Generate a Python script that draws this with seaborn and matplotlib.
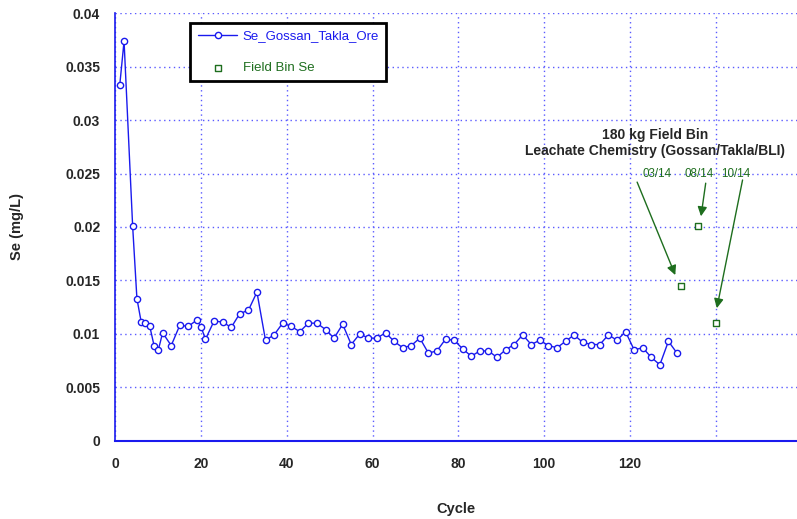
import matplotlib
matplotlib.use("Agg")
import matplotlib.pyplot as plt
import seaborn as sns

# Se_Gossan_Takla_Ore column data (cycle, mg/L)
cycles = [1, 2, 4, 5, 6, 7, 8, 9, 10, 11, 13, 15, 17, 19, 20, 21,
          23, 25, 27, 29, 31, 33, 35, 37, 39, 41, 43, 45, 47, 49, 51, 53,
          55, 57, 59, 61, 63, 65, 67, 69, 71, 73, 75, 77, 79, 81, 83, 85,
          87, 89, 91, 93, 95, 97, 99, 101, 103, 105, 107, 109, 111, 113,
          115, 117, 119, 121, 123, 125, 127, 129, 131]
se = [0.0333, 0.0374, 0.0201, 0.0133, 0.0111, 0.0110, 0.0107, 0.0089, 0.0085, 0.0101,
      0.0089, 0.0108, 0.0107, 0.0113, 0.0106, 0.0095,
      0.0112, 0.0111, 0.0106, 0.0119, 0.0122, 0.0139, 0.0094, 0.0099, 0.0110, 0.0107,
      0.0102, 0.0110, 0.0110, 0.0104, 0.0096, 0.0109,
      0.0090, 0.0100, 0.0096, 0.0096, 0.0101, 0.0093, 0.0087, 0.0089, 0.0096, 0.0082,
      0.0084, 0.0095, 0.0094, 0.0086, 0.0079, 0.0084,
      0.0084, 0.0078, 0.0085, 0.0090, 0.0099, 0.0090, 0.0094, 0.0089, 0.0087, 0.0093,
      0.0099, 0.0092, 0.0090, 0.0090,
      0.0099, 0.0094, 0.0102, 0.0085, 0.0087, 0.0078, 0.0071, 0.0093, 0.0082]

# field bin samples
bin_cycles = [132, 136, 140]
bin_se = [0.0145, 0.0201, 0.0110]
bin_dates = ["03/14", "08/14", "10/14"]

y_ticks = [0, 0.005, 0.01, 0.015, 0.02, 0.025, 0.03, 0.035, 0.04]
y_labels = ["0", "0.005", "0.01", "0.015", "0.02", "0.025", "0.03", "0.035", "0.04"]
x_ticks = [0, 20, 40, 60, 80, 100, 120, 140]
x_labels = ["0", "20", "40", "60", "80", "100", "120", ""]

blue = "#1a1aee"
grid_blue = "#5a5aff"
green = "#1e6e1e"

sns.set_style("white")
plt.rcParams['font.family'] = ['Liberation Sans', 'DejaVu Sans']

fig = plt.figure(figsize=(7.97, 5.19), dpi=100)
ax = fig.add_axes([0.1449, 0.1509, 0.8551, 0.8235])

sns.lineplot(x=cycles, y=se, ax=ax, color=blue, linewidth=1,
             marker='o', markersize=4.5, markerfacecolor='white',
             markeredgecolor=blue, markeredgewidth=1,
             label="Se_Gossan_Takla_Ore", zorder=3)
sns.scatterplot(x=bin_cycles, y=bin_se, ax=ax, marker='s', s=20,
                facecolor='white', edgecolor=green, linewidth=1,
                label="Field Bin Se", zorder=3)

ax.set_xlim(0, 159)
ax.set_ylim(0, 0.04)
ax.set_xticks(x_ticks)
ax.set_xticklabels(x_labels, fontsize=10, fontweight='bold')
ax.set_yticks(y_ticks)
ax.set_yticklabels(y_labels, fontsize=10, fontweight='bold')
ax.tick_params(axis='x', direction='in', length=4, width=1, color=blue, pad=12)
ax.tick_params(axis='y', direction='in', length=4, width=1, color=blue, pad=11)

ax.grid(True, color=grid_blue, linestyle=(0, (1, 2.5)), linewidth=1)
ax.spines['top'].set_visible(False)
ax.spines['right'].set_visible(False)
ax.spines['left'].set_color(blue)
ax.spines['left'].set_linewidth(1.2)
ax.spines['bottom'].set_color(blue)
ax.spines['bottom'].set_linewidth(1.5)

ax.set_xlabel("Cycle", fontsize=10.5, fontweight='bold', labelpad=22)
ax.set_ylabel("Se (mg/L)", fontsize=10.5, fontweight='bold', labelpad=30)

leg = ax.legend(loc='upper left', bbox_to_anchor=(0.110, 0.978), borderaxespad=0,
                fontsize=9.5, frameon=True, fancybox=False, framealpha=1,
                edgecolor='black', handlelength=3, handletextpad=0.4,
                labelspacing=1.5, borderpad=0.55)
leg.get_frame().set_linewidth(2)
for txt, c in zip(leg.get_texts(), [blue, green]):
    txt.set_color(c)

# field bin annotations
ax.text(125.8, 0.0286, "180 kg Field Bin", fontsize=10, fontweight='bold',
        ha='center', va='center')
ax.text(125.8, 0.0271, "Leachate Chemistry (Gossan/Takla/BLI)", fontsize=10,
        fontweight='bold', ha='center', va='center')

label_x = [126.3, 136.2, 144.7]
arrow_tail = [(121.7, 0.0242), (137.7, 0.0241), (146.3, 0.0244)]
arrow_tip = [(130.6, 0.0155), (136.6, 0.0210), (140.3, 0.0124)]
for lx, d in zip(label_x, bin_dates):
    ax.text(lx, 0.0250, d, fontsize=8.4, color=green, ha='center', va='center')
for tail, tip in zip(arrow_tail, arrow_tip):
    ax.annotate("", xy=tip, xytext=tail,
                arrowprops=dict(arrowstyle='-|>', color=green, lw=1,
                                mutation_scale=14, shrinkA=0, shrinkB=0))

fig.savefig("out.png", dpi=100)
